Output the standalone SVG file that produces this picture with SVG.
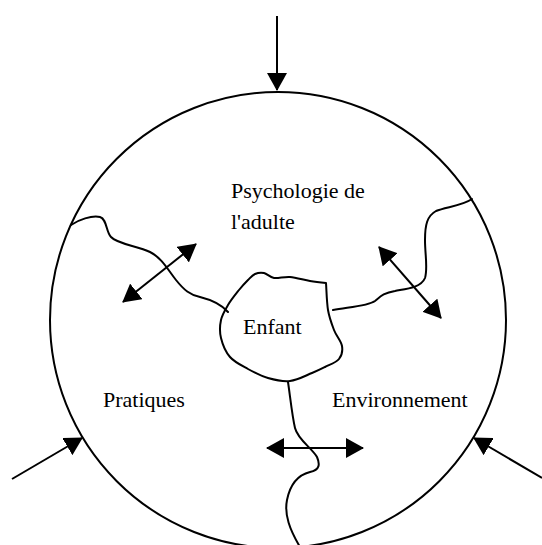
<svg xmlns="http://www.w3.org/2000/svg" width="542" height="545" viewBox="0 0 542 545">
<style>
.ln{fill:none;stroke:#000;stroke-width:2;stroke-linecap:round;stroke-linejoin:round}
.ar{fill:none;stroke:#000;stroke-width:2}
.lbl{font-family:"Liberation Serif","Times New Roman",serif;font-size:22px;fill:#000}
</style>
<defs>
<marker id="ah" markerUnits="userSpaceOnUse" markerWidth="18" markerHeight="20" viewBox="0 0 18 20" refX="17" refY="10" orient="auto-start-reverse">
<path d="M0,0 L18,10 L0,20 Z" fill="#000"/>
</marker>
</defs>
<rect width="542" height="545" fill="#fff"/>
<g id="outer-circle">
<circle cx="278" cy="320" r="228" class="ln"/>
</g>
<g id="boundaries">
<path class="ln" d="M71,225 C78,220 92,215 100,217 C107,219 106,232 111,237 C117,244 138,246 150,252 C162,258 168,270 176,280 C184,290 190,295 200,297 C212,300 222,305 228,312"/>
<path class="ln" d="M472,199 C462,206 445,207 436,211 C427,216 425,225 425,240 C425,255 428,268 425,278 C421,288 405,289 395,291 C383,293 380,297 375,301 C368,306 350,307 333,310"/>
<path class="ln" d="M288,382 C290,395 292,415 295,428 C298,440 312,448 317,457 C320,464 320,470 310,472 C298,475 290,485 287,500 C284,515 290,530 300,547"/>
</g>
<g id="enfant">
<path class="ln" d="M255,274 C257.7,272.8 260.8,272.3 264,273 C267.2,273.7 269.7,277.3 274,278 C278.3,278.7 284,276.5 290,277 C296,277.5 304,280 310,281 C316,282 321,282.5 326,283 C326.5,290 326.7,302.2 328,310 C329.3,317.8 331.7,324 334,330 C336.3,336 341.2,341.2 342,346 C342.8,350.8 341.8,355.5 339,359 C336.2,362.5 329.5,364.7 325,367 C320.5,369.3 317.8,370.7 312,373 C306.2,375.3 297.3,380.2 290,381 C282.7,381.8 275,380 268,378 C261,376 254.3,372.5 248,369 C241.7,365.5 234.5,362.2 230,357 C225.5,351.8 222.5,344.2 221,338 C219.5,331.8 219.8,325.5 221,320 C222.2,314.5 225,310 228,305 C231,300 235.7,294.2 239,290 C242.3,285.8 245.3,282.7 248,280 C250.7,277.3 252.3,275.2 255,274 Z"/>
<text class="lbl" x="243" y="334">Enfant</text>
</g>
<g id="psychologie-adulte">
<text class="lbl" x="231" y="198">Psychologie de</text>
<text class="lbl" x="231" y="229">l'adulte</text>
</g>
<g id="pratiques">
<text class="lbl" x="103" y="407">Pratiques</text>
</g>
<g id="environnement">
<text class="lbl" x="332" y="407">Environnement</text>
</g>
<g id="connectors">
<line class="ar" x1="277" y1="16" x2="277" y2="90" marker-end="url(#ah)"/>
<line class="ar" x1="12" y1="479" x2="82" y2="438" marker-end="url(#ah)"/>
<line class="ar" x1="542" y1="478" x2="474" y2="438" marker-end="url(#ah)"/>
<line class="ar" x1="123" y1="302" x2="196" y2="244" marker-start="url(#ah)" marker-end="url(#ah)"/>
<line class="ar" x1="379" y1="247" x2="441" y2="318" marker-start="url(#ah)" marker-end="url(#ah)"/>
<line class="ar" x1="267" y1="448" x2="363" y2="448" marker-start="url(#ah)" marker-end="url(#ah)"/>
</g>
</svg>
